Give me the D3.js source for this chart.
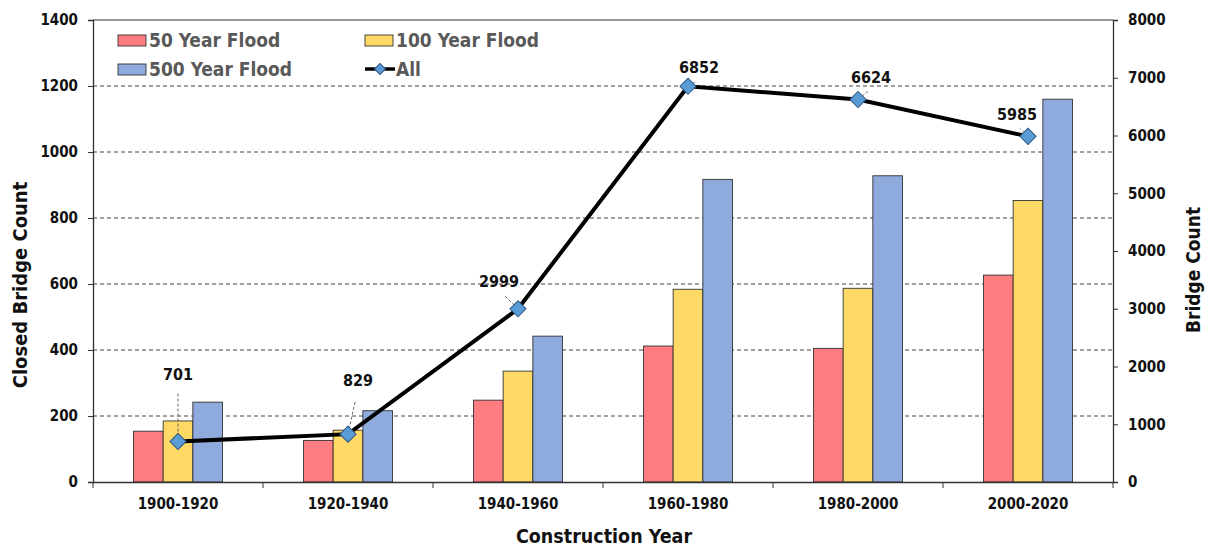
<!DOCTYPE html>
<html><head><meta charset="utf-8">
<script src="https://cdn.jsdelivr.net/npm/d3@7"></script>
<style>body{margin:0;background:#fff;} text{font-family:"DejaVu Sans Condensed","DejaVu Sans",sans-serif;font-stretch:condensed;font-weight:bold;}</style>
</head><body><svg id="c" width="1210" height="548"></svg>
<script>
const categories = ["1900-1920","1920-1940","1940-1960","1960-1980","1980-2000","2000-2020"];
const flood50 = [154,126,248,412,405,627];
const flood100 = [185,157,336,584,587,853];
const flood500 = [242,216,442,917,928,1160];
const allBridges = [701,829,2999,6852,6624,5985];
const leftTicks = [0,200,400,600,800,1000,1200,1400];
const rightTicks = [0,1000,2000,3000,4000,5000,6000,7000,8000];
const seriesNames = ["50 Year Flood","100 Year Flood","500 Year Flood"];
const seriesColors = ["#ff7c80","#ffd966","#8faadc"];
// label offsets (dx, dy) from point
const labelOffsets = [[0,-62],[10,-48],[-19,-22],[11,-13],[13,-16],[-11,-16]];

const svg = d3.select("#c");
const L=93, R=1113, T=20, B=482;
const x = d3.scaleBand().domain(categories).range([L,R]);
const yL = d3.scaleLinear().domain([0,1400]).range([B,T]);
const yR = d3.scaleLinear().domain([0,8000]).range([B,T]);
const FF = '"DejaVu Sans Condensed","DejaVu Sans",sans-serif';

// grid
svg.append("g").selectAll("line").data(leftTicks.filter(d=>d>0&&d<1400)).join("line")
  .attr("x1",L).attr("x2",R).attr("y1",d=>yL(d)).attr("y2",d=>yL(d))
  .attr("stroke","#444").attr("stroke-dasharray","4,3").attr("stroke-width",1);
// frame top
svg.append("line").attr("x1",L).attr("x2",R).attr("y1",T).attr("y2",T).attr("stroke","#777").attr("stroke-width",1.3);

// bars
const bw = 29.7;
const series=[flood50,flood100,flood500];
series.forEach((s,i)=>{
  svg.append("g").selectAll("rect").data(s).join("rect")
    .attr("x",(d,j)=>x(categories[j])+x.bandwidth()/2-1.5*bw+i*bw)
    .attr("y",d=>yL(d)).attr("width",bw).attr("height",d=>B-yL(d))
    .attr("fill",seriesColors[i]).attr("stroke","#333").attr("stroke-width",0.9);
});

// axes
const fmt = d3.format("d");
const axL = svg.append("g").attr("transform",`translate(${L},0)`).call(d3.axisLeft(yL).tickValues(leftTicks).tickFormat(fmt).tickSize(5).tickPadding(10));
const axR = svg.append("g").attr("transform",`translate(${R},0)`).call(d3.axisRight(yR).tickValues(rightTicks).tickFormat(fmt).tickSize(5).tickPadding(10));
const axB = svg.append("g").attr("transform",`translate(0,${B})`).call(d3.axisBottom(x).tickSize(0).tickPadding(16));
[axL,axR,axB].forEach(a=>{a.select(".domain").attr("stroke","#333").attr("stroke-width",1.3);
  a.selectAll(".tick line").attr("stroke","#333");
  a.selectAll("text").attr("font-size",15).attr("fill","#111").style("font-family",FF).style("font-stretch","condensed").style("font-weight","bold");});
// category boundary ticks
svg.append("g").selectAll("line").data(d3.range(categories.length+1)).join("line")
  .attr("x1",i=>L+i*x.step()).attr("x2",i=>L+i*x.step()).attr("y1",B).attr("y2",B+6).attr("stroke","#333");

// line
const pts = allBridges.map((v,i)=>[x(categories[i])+x.bandwidth()/2, yR(v)]);
// leader lines
svg.append("g").selectAll("line").data(pts).join("line")
  .attr("x1",d=>d[0]).attr("y1",d=>d[1])
  .attr("x2",(d,i)=>d[0]+labelOffsets[i][0]*0.75).attr("y2",(d,i)=>d[1]+labelOffsets[i][1]+ (labelOffsets[i][1]<-30?14:8))
  .attr("stroke","#666").attr("stroke-dasharray","3,2").attr("stroke-width",1);
svg.append("path").datum(pts).attr("d",d3.line()).attr("fill","none").attr("stroke","#000").attr("stroke-width",4);
const diamond = d3.symbol().type(d3.symbolSquare).size(130);
svg.append("g").selectAll("path").data(pts).join("path")
  .attr("d",diamond).attr("transform",d=>`translate(${d[0]},${d[1]}) rotate(45)`)
  .attr("fill","#5b9bd5").attr("stroke","#2e5a87").attr("stroke-width",1);
svg.append("g").selectAll("text").data(allBridges).join("text")
  .attr("x",(d,i)=>pts[i][0]+labelOffsets[i][0]).attr("y",(d,i)=>pts[i][1]+labelOffsets[i][1])
  .attr("text-anchor","middle").attr("font-size",16).attr("fill","#111").text(d=>d);

// titles
svg.append("text").attr("transform","translate(27,285) rotate(-90)").attr("text-anchor","middle").attr("font-size",20).attr("fill","#111").text("Closed Bridge Count");
svg.append("text").attr("transform","translate(1200,270) rotate(-90)").attr("text-anchor","middle").attr("font-size",19).attr("fill","#111").text("Bridge Count");
svg.append("text").attr("x",604).attr("y",543).attr("text-anchor","middle").attr("font-size",19.5).attr("fill","#111").text("Construction Year");

// legend
const leg = [{n:seriesNames[0],c:seriesColors[0],x:118,y:40},{n:seriesNames[1],c:seriesColors[1],x:365,y:40},{n:seriesNames[2],c:seriesColors[2],x:118,y:69},{n:"All",c:null,x:365,y:69}];
leg.forEach(l=>{
  if(l.c){svg.append("rect").attr("x",l.x).attr("y",l.y-5).attr("width",28).attr("height",11).attr("fill",l.c).attr("stroke","#333").attr("stroke-width",0.9);}
  else{svg.append("line").attr("x1",l.x).attr("x2",l.x+30).attr("y1",l.y).attr("y2",l.y).attr("stroke","#000").attr("stroke-width",3.5);
    svg.append("path").attr("d",d3.symbol().type(d3.symbolSquare).size(60)).attr("transform",`translate(${l.x+15},${l.y}) rotate(45)`).attr("fill","#5b9bd5").attr("stroke","#2e5a87");}
  svg.append("text").attr("x",l.x+31).attr("y",l.y+7).attr("font-size",19).attr("fill","#595959").text(l.n);
});
</script></body></html>
